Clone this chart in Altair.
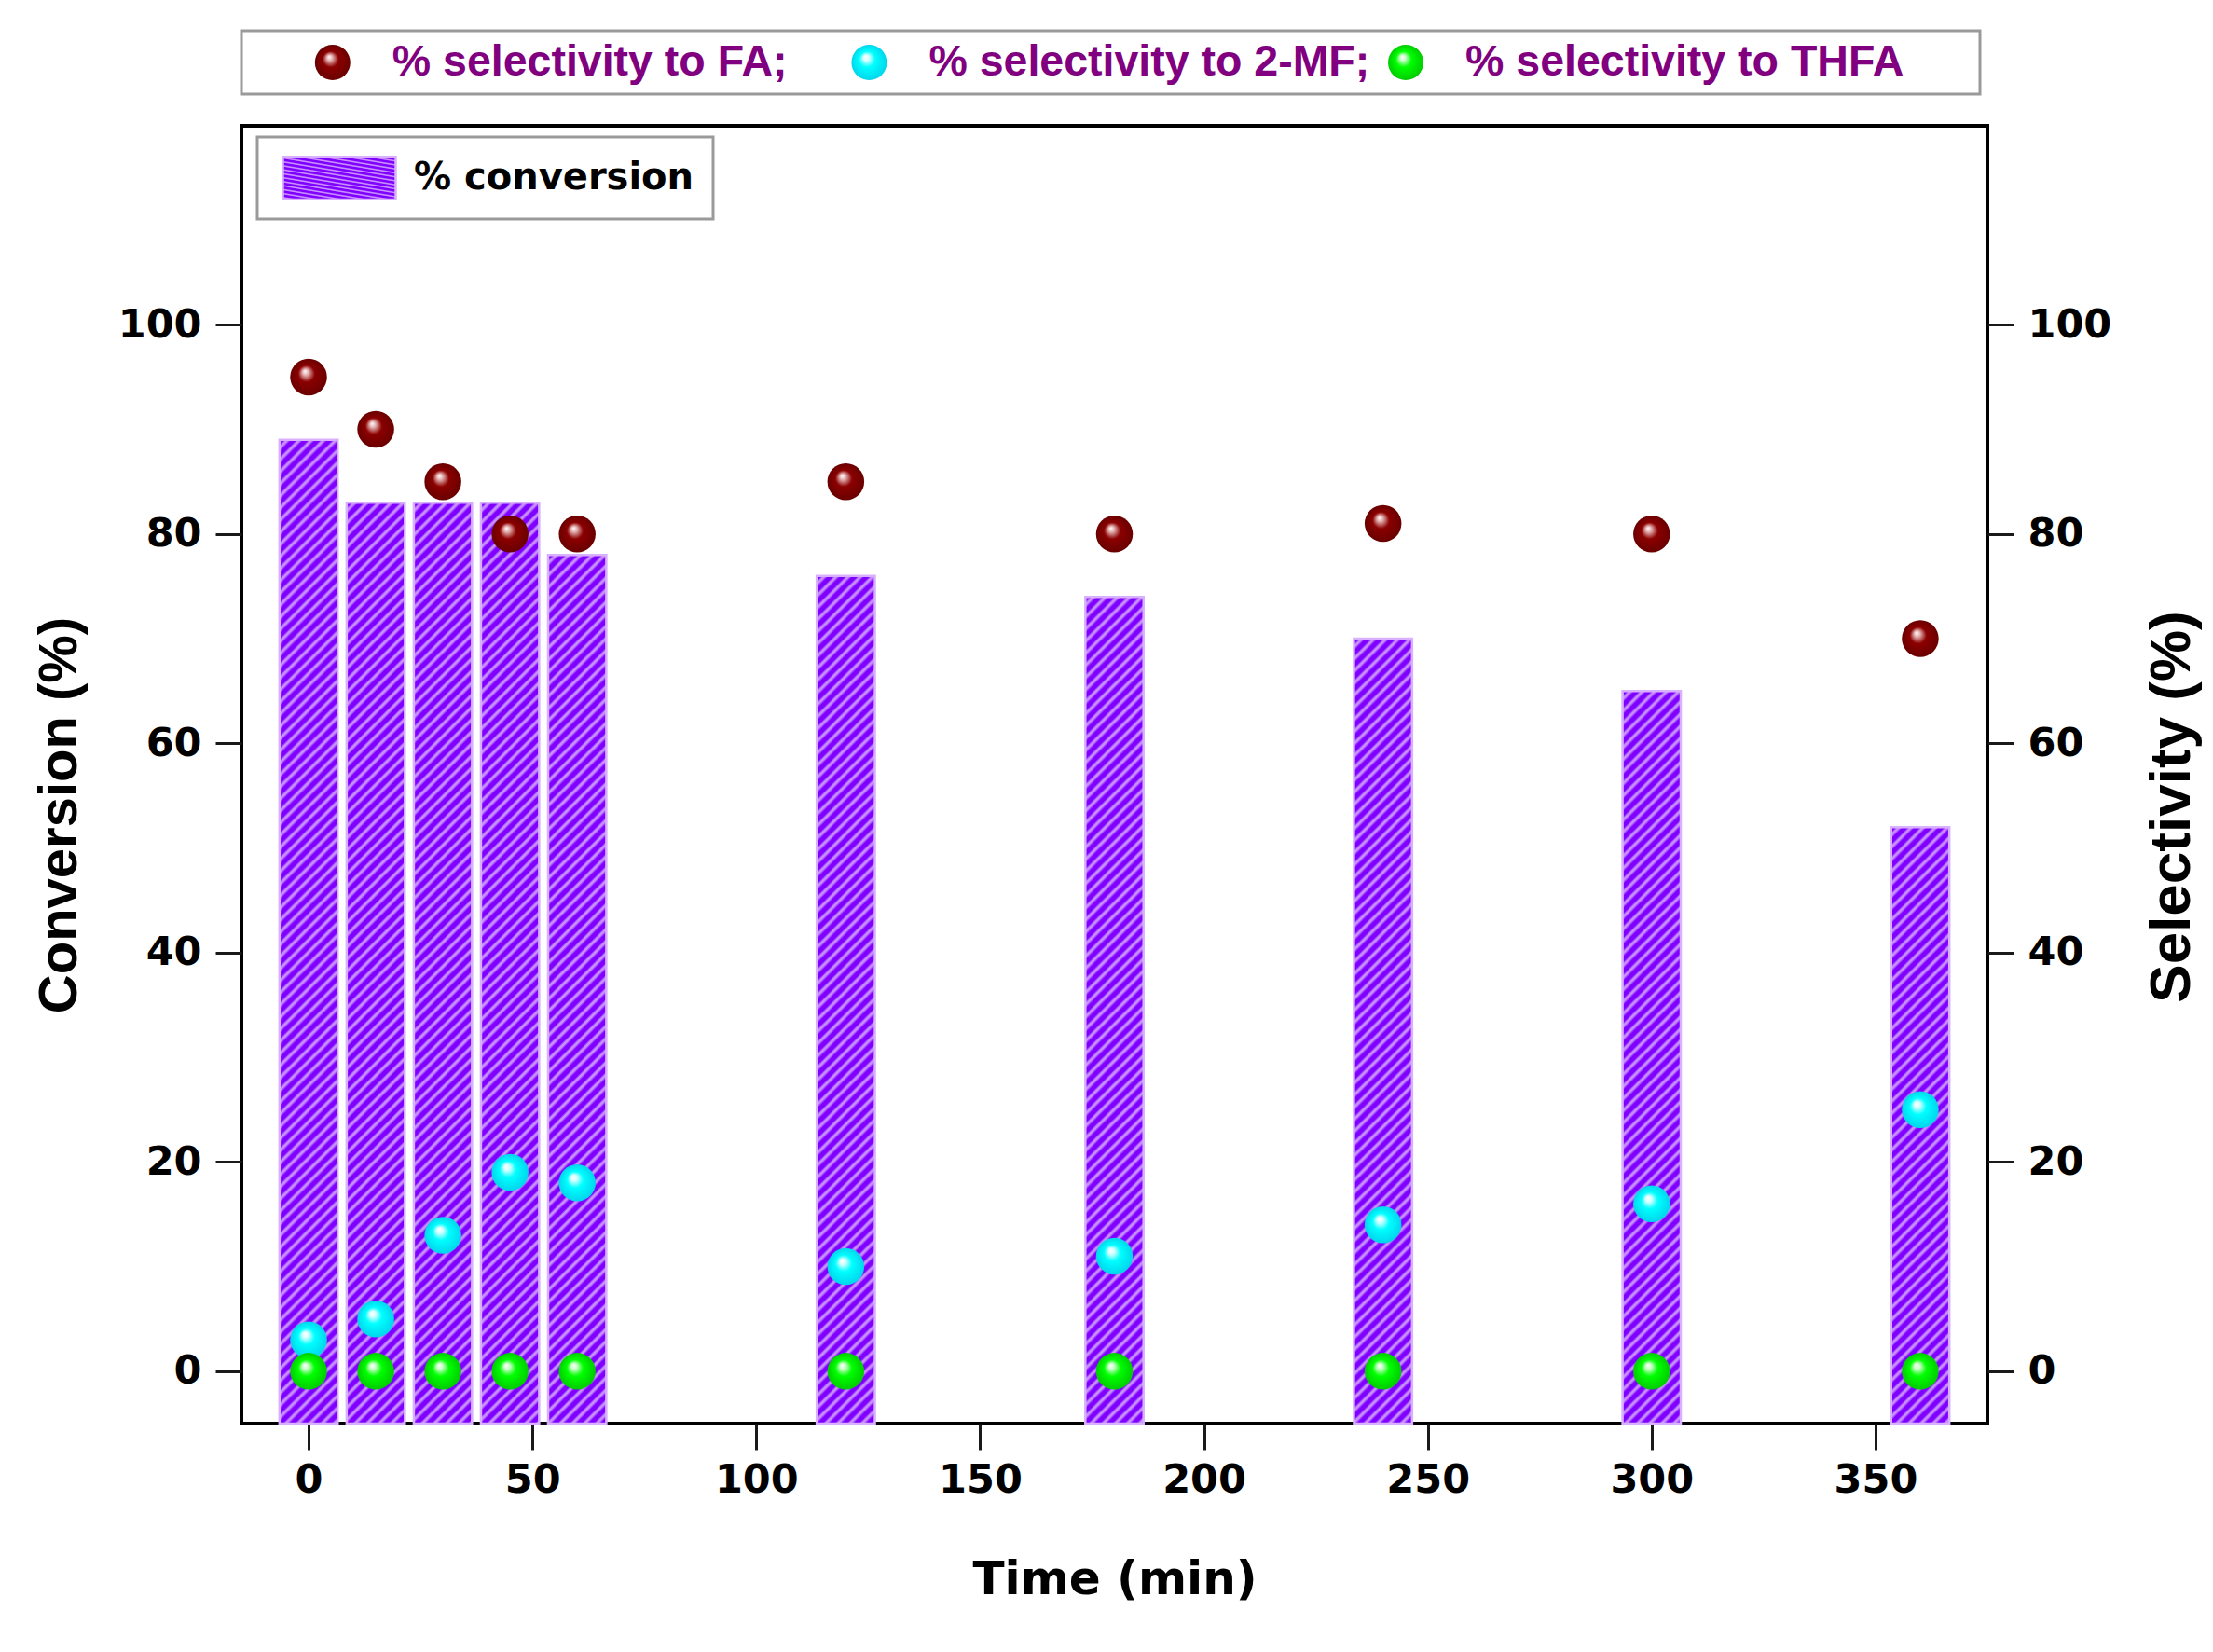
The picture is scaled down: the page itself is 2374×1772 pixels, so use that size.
import altair as alt
import pandas as pd

# ---- data -------------------------------------------------------------
time_min = [0, 15, 30, 45, 60, 120, 180, 240, 300, 360]
conversion = [89, 83, 83, 83, 78, 76, 74, 70, 65, 52]
sel_fa = [95, 90, 85, 80, 80, 85, 80, 81, 80, 70]
sel_2mf = [3, 5, 13, 19, 18, 10, 11, 14, 16, 25]
sel_thfa = [0, 0, 0, 0, 0, 0, 0, 0, 0, 0]

series_names = ["% selectivity to FA;", "% selectivity to 2-MF;", "% selectivity to THFA"]
series_values = [sel_fa, sel_2mf, sel_thfa]
conversion_label = "% conversion"

x_ticks = [0, 50, 100, 150, 200, 250, 300, 350]
y_ticks = [0, 20, 40, 60, 80, 100]

# ---- layout / style -----------------------------------------------------
PLOT_W, PLOT_H = 1873, 1392
X_DOMAIN = [-15, 375]
Y_DOMAIN = [-5, 119]
BAR_WIDTH_MIN = 13
LEG_W, LEG_H = 1865, 68
SWATCH_W, SWATCH_H = 121, 46

BAR_BASE = "#7f00ff"
BAR_STRIPE = "#c890ff"
BAR_EDGE = "#d9b0ff"
LEGEND_TEXT = "#800080"

px_x = PLOT_W / (X_DOMAIN[1] - X_DOMAIN[0])
px_y = PLOT_H / (Y_DOMAIN[1] - Y_DOMAIN[0])


def hatch(w_px, h_px, period=13.0):
    """Diagonal '///' stripes as a bounding-box linear gradient."""
    n = (w_px + h_px) / period
    step = 1.0 / n
    stops = []
    k = 0
    while k * step < 1.0:
        o = k * step
        for frac, col in ((0.0, BAR_BASE), (0.38, BAR_BASE), (0.6, BAR_STRIPE), (0.74, BAR_STRIPE)):
            stops.append({"offset": round(min(o + frac * step, 1.0), 5), "color": col})
        k += 1
    stops.append({"offset": 1.0, "color": BAR_BASE})
    a = w_px / h_px
    s = (a + 1) / (a * a + 1)
    return {"gradient": "linear", "x1": 0, "y1": 0,
            "x2": round(s * a, 5), "y2": round(s, 5), "stops": stops}


def gradient_expr(g):
    stops = ", ".join("{offset: %s, color: '%s'}" % (st["offset"], st["color"]) for st in g["stops"])
    return ("{gradient: 'linear', x1: %s, y1: %s, x2: %s, y2: %s, stops: [%s]}"
            % (g["x1"], g["y1"], g["x2"], g["y2"], stops))


def sphere(core, mid, rim):
    return {"gradient": "radial", "x1": 0.4, "y1": 0.34, "r1": 0,
            "x2": 0.5, "y2": 0.5, "r2": 0.5,
            "stops": [{"offset": 0, "color": "#ffffff"},
                      {"offset": 0.16, "color": core},
                      {"offset": 0.45, "color": mid},
                      {"offset": 1, "color": rim}]}


sphere_fills = [
    sphere("#e6b4b4", "#8b0000", "#6a0000"),
    sphere("#d8ffff", "#00ffff", "#00d6ec"),
    sphere("#c8ffc8", "#00ff00", "#00cc00"),
]

TICK_FONT = "DejaVu Sans"
TITLE_FONT = "Liberation Sans"

x_scale = alt.Scale(domain=X_DOMAIN, nice=False, zero=False)
y_scale = alt.Scale(domain=Y_DOMAIN, nice=False, zero=False)

axis_common = dict(
    grid=False, domain=False, tickSize=28, tickWidth=3, tickColor="#1a1a1a",
    labelFont=TICK_FONT, labelFontWeight="bold", labelFontSize=43, labelColor="black",
    titleFontWeight="bold", titleColor="black",
)


def x_enc(field):
    return alt.X(f"{field}:Q", scale=x_scale,
                 axis=alt.Axis(values=x_ticks, title="Time (min)", labelPadding=11,
                               titleFont=TICK_FONT, titleFontSize=50, titlePadding=60,
                               **axis_common))


y_left = alt.Y("conv:Q", scale=y_scale,
               axis=alt.Axis(orient="left", values=y_ticks, title="Conversion (%)",
                             labelPadding=15, titleFont=TITLE_FONT, titleFontSize=58,
                             titlePadding=33, titleY=739, **axis_common))

y_right = alt.Y("sel:Q", scale=y_scale,
                axis=alt.Axis(orient="right", values=y_ticks, title="Selectivity (%)",
                              labelPadding=15, titleFont=TITLE_FONT, titleFontSize=62,
                              titleAngle=270, titleBaseline="top", titlePadding=35,
                              titleY=730, **axis_common))

# legend swatch for the conversion bars
swatch_grad = hatch(SWATCH_W, SWATCH_H)
half_h = round(SWATCH_H / SWATCH_W, 4)
conv_stroke = alt.Stroke(
    "lbl:N",
    scale=alt.Scale(domain=[conversion_label], range=[BAR_EDGE]),
    legend=alt.Legend(
        title=None, orient="none", legendX=17, legendY=12,
        symbolType=f"M-1,-{half_h}H1V{half_h}H-1Z", symbolSize=SWATCH_W * SWATCH_W,
        clipHeight=SWATCH_H + 2,
        symbolFillColor={"expr": gradient_expr(swatch_grad)},
        symbolStrokeWidth=2.5, symbolOpacity=1, symbolOffset=6,
        labelFont=TICK_FONT, labelFontWeight="bold", labelFontSize=40,
        labelColor="black", labelOffset=18, labelLimit=800,
        labelExpr="datum.label + '\u00a0'",
        padding=20, strokeColor="#9a9a9a", fillColor="white",
    ),
)

# ---- conversion bars (one layer per bar so each gets its own stripe gradient)
bar_layers = []
for t, c in zip(time_min, conversion):
    df = pd.DataFrame({"t": [t], "conv": [c], "lbl": [conversion_label]})
    grad = hatch(BAR_WIDTH_MIN * px_x, (c - Y_DOMAIN[0]) * px_y)
    bar_layers.append(
        alt.Chart(df)
        .transform_calculate(x0=f"datum.t - {BAR_WIDTH_MIN / 2}",
                             x1=f"datum.t + {BAR_WIDTH_MIN / 2}")
        .mark_bar(fill=grad, strokeWidth=2.5, opacity=1)
        .encode(x=x_enc("x0"), x2="x1:Q", y=y_left,
                y2=alt.datum(Y_DOMAIN[0]), stroke=conv_stroke)
    )

# ---- selectivity spheres
point_layers = []
for name, vals, fill in zip(series_names, series_values, sphere_fills):
    df = pd.DataFrame({"t": time_min, "sel": vals, "series": name})
    point_layers.append(
        alt.Chart(df)
        .mark_point(shape="circle", filled=True, fill=fill, size=1560,
                    opacity=1, strokeWidth=0)
        .encode(x=x_enc("t"), y=y_right)
    )

main = (
    alt.layer(alt.layer(*bar_layers), alt.layer(*point_layers))
    .resolve_scale(y="independent")
    .properties(width=PLOT_W, height=PLOT_H,
                view=alt.ViewBackground(stroke="black", strokeWidth=4, fill="white"))
)

# ---- series legend strip above the plot
leg_df = pd.DataFrame({"series": series_names})
leg_x = alt.X("series:N", axis=None,
              scale=alt.Scale(type="point", domain=series_names, padding=0.62, align=0.137))

legend_layers = [
    alt.Chart(leg_df)
    .transform_filter(alt.datum.series == name)
    .mark_point(shape="circle", filled=True, fill=fill, size=1444, opacity=1, strokeWidth=0)
    .encode(x=leg_x)
    for name, fill in zip(series_names, sphere_fills)
]
legend_layers.append(
    alt.Chart(leg_df)
    .mark_text(align="left", baseline="middle", dx=64, font=TITLE_FONT,
               fontWeight="bold", fontSize=46.5, color=LEGEND_TEXT)
    .encode(x=leg_x, text="series:N")
)
legend_panel = alt.layer(*legend_layers).properties(
    width=LEG_W, height=LEG_H,
    view=alt.ViewBackground(stroke="#9a9a9a", strokeWidth=3, fill="white"),
)

chart = (
    alt.vconcat(legend_panel, main, spacing=30)
    .resolve_scale(stroke="independent")
    .resolve_legend(stroke="independent")
    .properties(padding={"left": 33, "top": 31, "right": 10, "bottom": 10},
                background="white")
    .configure_legend(strokeWidth=3)
)

chart.save("out.html", embed_options={"renderer": "svg", "actions": False})
